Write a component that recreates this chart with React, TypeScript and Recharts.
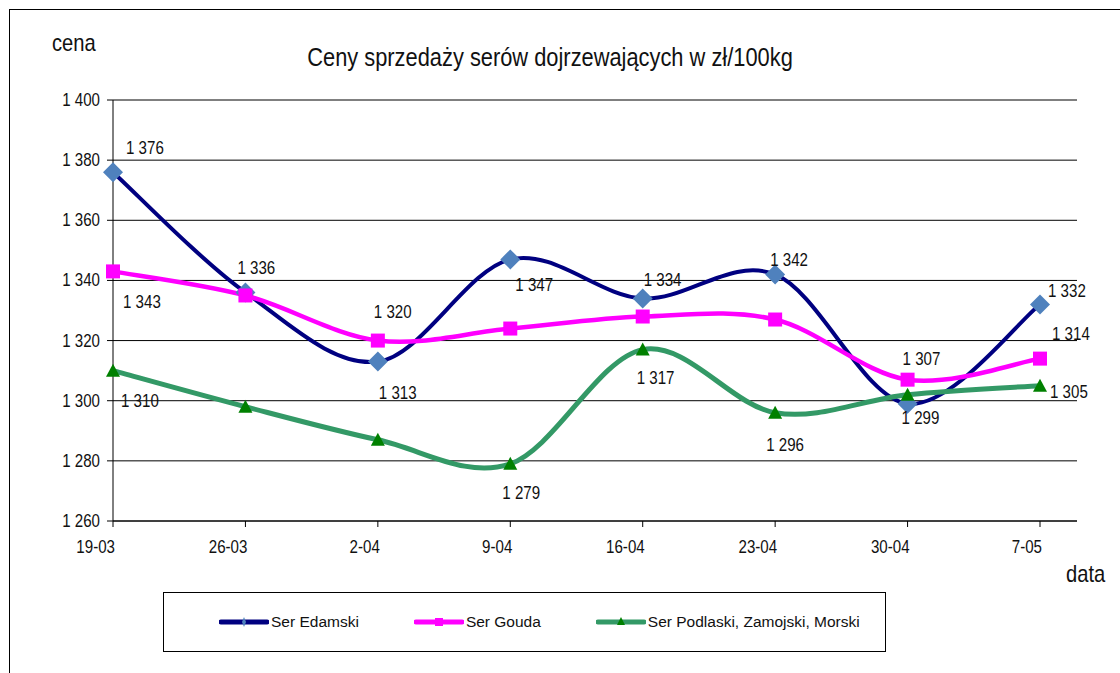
import React from 'react';
import { LineChart, Line, XAxis, YAxis, CartesianGrid, Legend, LabelList } from 'recharts';

const dates = ['19-03', '26-03', '2-04', '9-04', '16-04', '23-04', '30-04', '7-05'];
const edamski = [1376, 1336, 1313, 1347, 1334, 1342, 1299, 1332];
const gouda = [1343, 1335, 1320, 1324, 1328, 1327, 1307, 1314];
const podlaski = [1310, 1298, 1287, 1279, 1317, 1296, 1302, 1305];
const yTicks = [1260, 1280, 1300, 1320, 1340, 1360, 1380, 1400];

// label placement per point: [dx, dy] from the marker, null = no label
const edamskiLabels: ([number, number] | null)[] = [[13, -24], [-8, -24], [1, 31], [5, 26], [1, -18], [-5, -14], [-6, 14], [8, -13]];
const goudaLabels: ([number, number] | null)[] = [[10, 31], null, [-4, -29], null, null, null, [-5, -21], [12, -25]];
const podlaskiLabels: ([number, number] | null)[] = [[8, 30], null, null, [-8, 29], [-6, 28], [-9, 32], null, [10, 6]];

const data = dates.map((d, i) => ({
  date: d,
  edamski: edamski[i],
  gouda: gouda[i],
  podlaski: podlaski[i],
}));

const FONT = "'Liberation Sans', Arial, sans-serif";
const SQUEEZE = 0.84; // no narrow font installed, so squeeze horizontally

const fmt = (v: number) => `${Math.floor(v / 1000)} ${String(v % 1000).padStart(3, '0')}`;

// Excel-like smoothed line (Catmull-Rom as cubic bezier)
const excelSmooth = (context: any) => {
  let pts: [number, number][] = [];
  return {
    areaStart() {},
    areaEnd() {},
    lineStart() {
      pts = [];
    },
    point(x: number, y: number) {
      pts.push([+x, +y]);
    },
    lineEnd() {
      if (!pts.length) return;
      context.moveTo(pts[0][0], pts[0][1]);
      for (let i = 0; i < pts.length - 1; i++) {
        const p0 = pts[Math.max(i - 1, 0)];
        const p1 = pts[i];
        const p2 = pts[i + 1];
        const p3 = pts[Math.min(i + 2, pts.length - 1)];
        context.bezierCurveTo(
          p1[0] + (p2[0] - p0[0]) / 6,
          p1[1] + (p2[1] - p0[1]) / 6,
          p2[0] - (p3[0] - p1[0]) / 6,
          p2[1] - (p3[1] - p1[1]) / 6,
          p2[0],
          p2[1]
        );
      }
    },
  };
};

const NarrowText = ({ x, y, anchor = 'start', size = 18, children }: any) => (
  <text
    transform={`translate(${x} ${y}) scale(${SQUEEZE} 1)`}
    textAnchor={anchor}
    dominantBaseline="central"
    fontFamily={FONT}
    fontSize={size}
    fill="#111"
  >
    {children}
  </text>
);

const diamond = (props: any) => {
  const { cx, cy, index } = props;
  if (cx == null || cy == null) return <g key={`d-${index}`} />;
  const r = 10;
  return <path key={`d-${index}`} d={`M${cx},${cy - r}L${cx + r},${cy}L${cx},${cy + r}L${cx - r},${cy}Z`} fill="#4F81BD" />;
};

const square = (props: any) => {
  const { cx, cy, index } = props;
  if (cx == null || cy == null) return <g key={`s-${index}`} />;
  return <rect key={`s-${index}`} x={cx - 7} y={cy - 7} width={14} height={14} fill="#FF00FF" />;
};

const triangle = (props: any) => {
  const { cx, cy, index } = props;
  if (cx == null || cy == null) return <g key={`t-${index}`} />;
  return <path key={`t-${index}`} d={`M${cx},${cy - 7}L${cx + 7},${cy + 6}L${cx - 7},${cy + 6}Z`} fill="#008000" />;
};

const makeLabel = (offsets: ([number, number] | null)[]) => (props: any) => {
  const { x, y, value, index } = props;
  const off = offsets[index];
  if (!off) return null;
  return (
    <NarrowText key={`l-${index}`} x={x + off[0]} y={y + off[1]}>
      {fmt(value)}
    </NarrowText>
  );
};

const XTick = (props: any) => {
  const { x, y, payload } = props;
  return (
    <NarrowText x={x + 2} y={y + 18} anchor="end">
      {payload.value}
    </NarrowText>
  );
};

const YTick = (props: any) => {
  const { x, y, payload } = props;
  return (
    <NarrowText x={x} y={y} anchor="end">
      {fmt(payload.value)}
    </NarrowText>
  );
};

const legendIcon = (name: string, color: string) => {
  let marker: React.ReactNode = null;
  if (name === 'Ser Edamski') marker = <path d="M25,5L27,10L25,15L23,10Z" fill="#4F81BD" />;
  if (name === 'Ser Gouda') marker = <rect x={21} y={6} width={8} height={8} fill="#FF00FF" />;
  if (name.startsWith('Ser Podlaski')) marker = <path d="M25,5L29,13L21,13Z" fill="#008000" />;
  return (
    <svg width={50} height={20} style={{ display: 'block' }}>
      <line x1={2} y1={10} x2={48} y2={10} stroke={color} strokeWidth={5} strokeLinecap="round" />
      {marker}
    </svg>
  );
};

const LegendBox = (props: any) => {
  const { payload } = props;
  return (
    <div
      style={{
        boxSizing: 'border-box',
        width: 723,
        height: 60,
        border: '1.5px solid #000',
        display: 'flex',
        alignItems: 'center',
        paddingLeft: 55,
        gap: 55,
        fontFamily: FONT,
        fontSize: 15.5,
        color: '#111',
      }}
    >
      {(payload || []).map((p: any) => (
        <div key={p.value} style={{ display: 'flex', alignItems: 'center' }}>
          {legendIcon(p.value, p.color)}
          <span style={{ marginLeft: 2 }}>{p.value}</span>
        </div>
      ))}
    </div>
  );
};

const squeezed = (origin: string): React.CSSProperties => ({
  transform: `scaleX(${SQUEEZE})`,
  transformOrigin: origin,
  fontFamily: FONT,
  color: '#111',
  whiteSpace: 'nowrap',
});

export default function App() {
  return (
    <div style={{ position: 'absolute', left: 0, top: 0, width: 1120, height: 673, overflow: 'hidden', background: '#fff' }}>
      <div style={{ position: 'absolute', left: 9, top: 9, width: 1200, height: 800, border: '1.5px solid #000' }} />
      <div style={{ position: 'absolute', left: 0, top: 42, width: 1100, textAlign: 'center', fontSize: 26, ...squeezed('550px 0') }}>
        Ceny sprzedaży serów dojrzewających w zł/100kg
      </div>
      <div style={{ position: 'absolute', left: 52, top: 29, fontSize: 24, ...squeezed('0 0') }}>cena</div>
      <div style={{ position: 'absolute', left: 1066, top: 560, fontSize: 24, ...squeezed('0 0') }}>data</div>
      <div style={{ position: 'absolute', left: 0, top: 0 }}>
        <LineChart width={1120} height={673} data={data} margin={{ top: 100, right: 43, bottom: 122, left: 0 }}>
          <CartesianGrid vertical={false} stroke="#000" strokeWidth={1} />
          <XAxis
            dataKey="date"
            height={30}
            padding={{ left: 0, right: 37 }}
            stroke="#000"
            tickSize={6}
            tick={<XTick />}
            interval={0}
          />
          <YAxis
            width={113}
            domain={[1260, 1400]}
            ticks={yTicks}
            interval={0}
            stroke="#000"
            tickSize={6}
            tickMargin={7}
            tick={<YTick />}
          />
          <Legend
            layout="horizontal"
            verticalAlign="middle"
            align="center"
            content={<LegendBox />}
            wrapperStyle={{ left: 163, top: 592, width: 723, height: 60 }}
          />
          <Line
            dataKey="edamski"
            name="Ser Edamski"
            type={excelSmooth as any}
            stroke="#000080"
            strokeWidth={4}
            dot={diamond}
            activeDot={false}
            isAnimationActive={false}
          >
            <LabelList dataKey="edamski" content={makeLabel(edamskiLabels)} />
          </Line>
          <Line
            dataKey="gouda"
            name="Ser Gouda"
            type={excelSmooth as any}
            stroke="#FF00FF"
            strokeWidth={4.5}
            dot={square}
            activeDot={false}
            isAnimationActive={false}
          >
            <LabelList dataKey="gouda" content={makeLabel(goudaLabels)} />
          </Line>
          <Line
            dataKey="podlaski"
            name="Ser Podlaski, Zamojski, Morski"
            type={excelSmooth as any}
            stroke="#339966"
            strokeWidth={5}
            dot={triangle}
            activeDot={false}
            isAnimationActive={false}
          >
            <LabelList dataKey="podlaski" content={makeLabel(podlaskiLabels)} />
          </Line>
        </LineChart>
      </div>
    </div>
  );
}
